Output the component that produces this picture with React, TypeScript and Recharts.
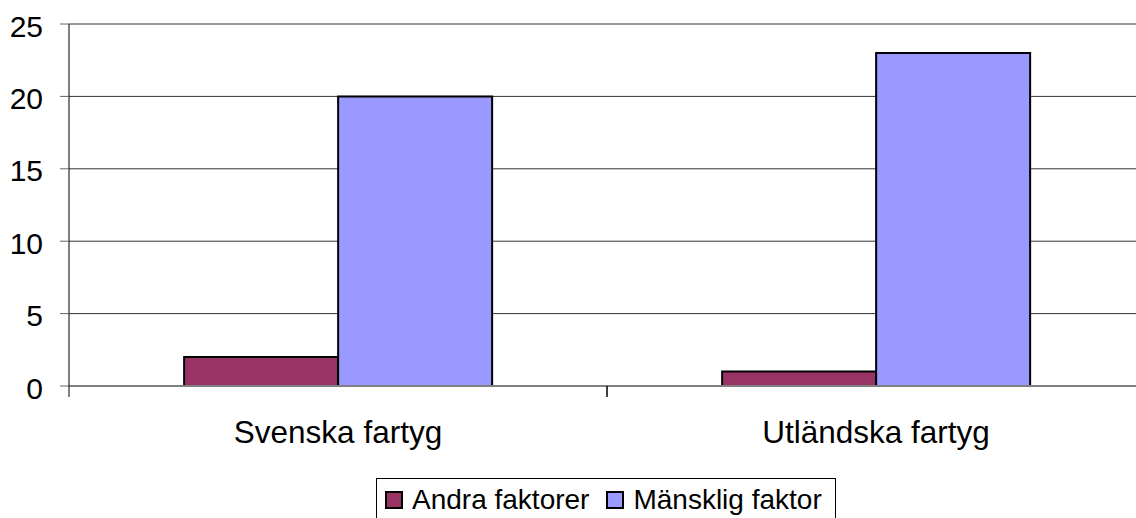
import { BarChart, Bar, XAxis, YAxis, CartesianGrid, Legend } from 'recharts'

const categories = ['Svenska fartyg', 'Utländska fartyg']
const andraFaktorer = [2, 1]
const manskligFaktor = [20, 23]
const yTicks = [0, 5, 10, 15, 20, 25]

const data = categories.map((name, i) => ({
  name,
  andra: andraFaktorer[i],
  mansklig: manskligFaktor[i],
}))

const FONT = '"Liberation Sans", Arial, sans-serif'
const CHART_W = 1150
const PLOT_LEFT = 69
const PLOT_RIGHT = 1145
const BAND = (PLOT_RIGHT - PLOT_LEFT) / categories.length

function CategoryTick(props: any) {
  const { x, y, payload } = props
  return (
    <g>
      <line x1={x - BAND / 2} y1={y} x2={x - BAND / 2} y2={y + 11} stroke="#000" strokeWidth={1} />
      <line x1={x + BAND / 2} y1={y} x2={x + BAND / 2} y2={y + 11} stroke="#000" strokeWidth={1} />
      <text x={x} y={y + 57} textAnchor="middle" fontSize={31.5} fontFamily={FONT} fill="#000">
        {payload.value}
      </text>
    </g>
  )
}

function LegendBox() {
  const item = (color: string, label: string, gap: number) => (
    <span style={{ display: 'inline-flex', alignItems: 'center', marginRight: gap }}>
      <span
        style={{
          display: 'inline-block',
          width: 14,
          height: 14,
          background: color,
          border: '2px solid #000',
          marginRight: 9,
        }}
      />
      <span>{label}</span>
    </span>
  )
  return (
    <div
      style={{
        boxSizing: 'border-box',
        height: 40,
        width: 460,
        borderTop: '1px solid #000',
        borderLeft: '1px solid #000',
        borderRight: '1px solid #000',
        fontFamily: FONT,
        fontSize: 28,
        color: '#000',
        display: 'flex',
        alignItems: 'center',
        paddingLeft: 8,
        paddingTop: 2,
        whiteSpace: 'nowrap',
      }}
    >
      {item('#993366', 'Andra faktorer', 17)}
      {item('#9999FF', 'Mänsklig faktor', 0)}
    </div>
  )
}

export default function App() {
  return (
    <div style={{ position: 'absolute', left: 0, top: 0, width: 1136, height: 518, overflow: 'hidden', background: '#fff' }}>
      <BarChart
        width={CHART_W}
        height={518}
        data={data}
        margin={{ top: 24, right: CHART_W - PLOT_RIGHT, left: 0, bottom: 0 }}
        barCategoryGap="21.4%"
        barGap={0}
      >
        <CartesianGrid vertical={false} stroke="#333" />
        <XAxis
          dataKey="name"
          height={92}
          tickLine={false}
          tickSize={0}
          tickMargin={0}
          axisLine={{ stroke: '#808080', strokeWidth: 2 }}
          tick={<CategoryTick />}
          interval={0}
        />
        <YAxis
          width={PLOT_LEFT}
          domain={[0, 25]}
          ticks={yTicks}
          tickSize={9}
          tickMargin={17}
          axisLine={{ stroke: '#000', strokeWidth: 1 }}
          tickLine={{ stroke: '#666' }}
          tick={{ fontSize: 30, fontFamily: FONT, fill: '#000', dy: 2 }}
        />
        <Legend
          verticalAlign="bottom"
          content={<LegendBox />}
          wrapperStyle={{ left: 376, width: 460, height: 40 }}
        />
        <Bar dataKey="andra" name="Andra faktorer" fill="#993366" stroke="#000" strokeWidth={2} isAnimationActive={false} />
        <Bar dataKey="mansklig" name="Mänsklig faktor" fill="#9999FF" stroke="#000" strokeWidth={2} isAnimationActive={false} />
      </BarChart>
    </div>
  )
}
